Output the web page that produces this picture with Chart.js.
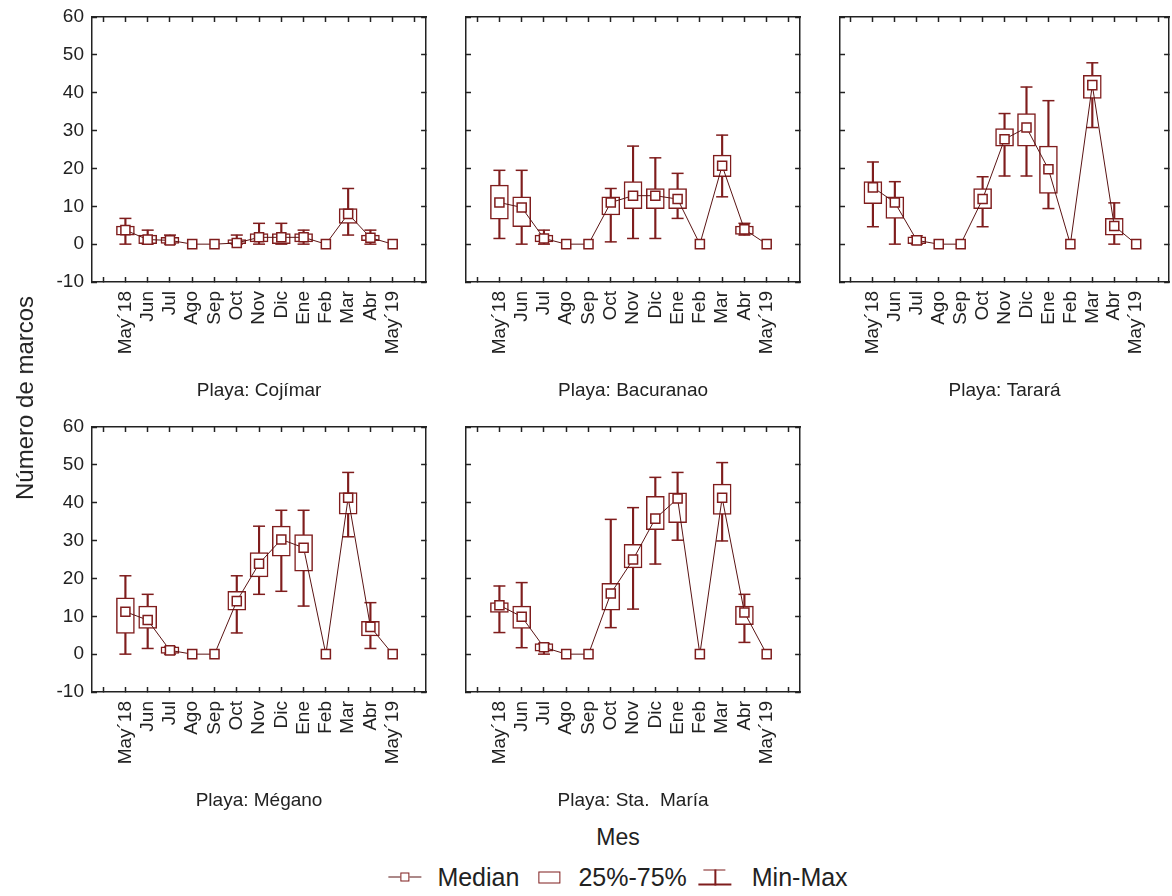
<!DOCTYPE html>
<html lang="es">
<head>
<meta charset="utf-8">
<title>Número de marcos por mes y playa</title>
<script src="https://cdn.jsdelivr.net/npm/chart.js@4.4.1/dist/chart.umd.min.js"></script>
<style>
  html, body { margin: 0; padding: 0; background: #fff; overflow: hidden; }
  body { width: 1172px; height: 896px; position: relative; font-family: 'Liberation Sans', Arial, sans-serif; color: #222; }
  canvas { position: absolute; }
  .lbl { position: absolute; white-space: nowrap; line-height: 1; }
  #ytitle { left: 25px; top: 398px; font-size: 24px; transform: translate(-50%, -50%) rotate(-90deg); }
  #xtitle { left: 618px; top: 837px; font-size: 23px; transform: translate(-50%, -50%); }
  #legend { position: absolute; left: 618px; top: 877px; transform: translate(-50%, -50%); display: flex; align-items: center; font-size: 25px; white-space: nowrap; }
  .ic-med { position: relative; width: 33px; height: 12px; }
  .ic-med::before { content: ''; position: absolute; left: 0; right: 0; top: 5.5px; height: 1px; background: #5a1414; }
  .ic-med i { position: absolute; left: 11.5px; top: 1.5px; width: 7px; height: 7px; border: 1.5px solid #7f1d1d; background: #fff; }
  .ic-box { width: 20px; height: 10px; border: 1.5px solid #7f1d1d; margin-left: 19px; }
  .ic-wsk { position: relative; width: 33px; height: 16px; margin-left: 12px; }
  .ic-wsk::before { content: ''; position: absolute; left: 5px; width: 22px; top: 0; height: 1.5px; background: #7f1d1d; }
  .ic-wsk::after { content: ''; position: absolute; left: 0; width: 33px; bottom: 0; height: 1.5px; background: #7f1d1d; }
  .ic-wsk i { position: absolute; left: 15.75px; top: 0; width: 1.5px; height: 16px; background: #7f1d1d; }
</style>
</head>
<body>
<canvas id="c0"></canvas>
<canvas id="c1"></canvas>
<canvas id="c2"></canvas>
<canvas id="c3"></canvas>
<canvas id="c4"></canvas>
<div class="lbl" id="ytitle">Número de marcos</div>
<div class="lbl" id="xtitle">Mes</div>
<div id="legend">
  <span class="ic-med"><i></i></span><span style="margin-left:16px">Median</span>
  <span class="ic-box"></span><span style="margin-left:18px">25%-75%</span>
  <span class="ic-wsk"><i></i></span><span style="margin-left:20px">Min-Max</span>
</div>
<script>
// meses (eje x)
const months = ['May´18', 'Jun', 'Jul', 'Ago', 'Sep', 'Oct', 'Nov', 'Dic', 'Ene', 'Feb', 'Mar', 'Abr', 'May´19'];

// Playa: Cojímar
const cojMin = [0, 0, 0, 0, 0, 0, 0, 0, 0, 0, 2.4, 0, 0];
const cojQ1  = [2.4, 0, 0.2, 0, 0, 0, 0.6, 0, 0.6, 0, 5.5, 0.9, 0];
const cojMed = [3.7, 1.2, 1, 0, 0, 0.3, 1.8, 1.8, 1.8, 0, 8, 1.7, 0];
const cojQ3  = [4.8, 2.4, 1.8, 0, 0, 1.2, 2.8, 2.8, 2.8, 0, 9.4, 2.4, 0];
const cojMax = [6.8, 3.7, 2.4, 0, 0, 2.4, 5.5, 5.5, 3.7, 0, 14.7, 3.7, 0];

// Playa: Bacuranao
const bacMin = [1.5, 0, 0, 0, 0, 0.6, 1.5, 1.5, 6.8, 0, 12.5, 2.4, 0];
const bacQ1  = [6.6, 4.6, 0.6, 0, 0, 7.7, 9.4, 9.4, 9.4, 0, 17.8, 2.6, 0];
const bacMed = [11, 9.7, 1.5, 0, 0, 11, 12.8, 12.8, 11.9, 0, 20.7, 3.9, 0];
const bacQ3  = [15.6, 12.5, 2.4, 0, 0, 12.5, 16.5, 14.7, 14.7, 0, 23.5, 4.8, 0];
const bacMax = [19.5, 19.5, 3.7, 0, 0, 14.7, 25.9, 22.8, 18.7, 0, 28.8, 5.5, 0];

// Playa: Tarará
const tarMin = [4.6, 0, 0, 0, 0, 4.6, 18, 18, 9.4, 0, 30.8, 0, 0];
const tarQ1  = [10.7, 6.8, 0, 0, 0, 9.4, 25.9, 25.9, 13.4, 0, 38.5, 2.4, 0];
const tarMed = [15, 11, 1, 0, 0, 11.9, 27.7, 30.8, 19.8, 0, 42, 4.8, 0];
const tarQ3  = [16.5, 12.5, 1.9, 0, 0, 14.7, 30.5, 34.5, 25.9, 0, 44.6, 6.8, 0];
const tarMax = [21.7, 16.5, 2.2, 0, 0, 17.8, 34.5, 41.5, 37.9, 0, 47.9, 10.9, 0];

// Playa: Mégano
const megMin = [0, 1.5, 0, 0, 0, 5.6, 15.8, 16.6, 12.7, 0, 31, 1.5, 0];
const megQ1  = [5.5, 6.8, 0.2, 0, 0, 11.6, 20.4, 25.9, 21.9, 0, 37, 4.8, 0];
const megMed = [11.2, 9, 1, 0, 0, 14, 23.9, 30.3, 28.1, 0, 41.3, 7.2, 0];
const megQ3  = [14.9, 12.7, 1.9, 0, 0, 16.6, 26.8, 33.8, 31.6, 0, 42.7, 8.7, 0];
const megMax = [20.7, 15.8, 1.9, 0, 0, 20.7, 33.8, 38, 38, 0, 48, 13.6, 0];

// Playa: Sta. María
const smaMin = [5.7, 1.7, 0, 0, 0, 7, 11.9, 23.8, 30.1, 0, 29.9, 3.1, 0];
const smaQ1  = [11, 6.8, 0.8, 0, 0, 11.6, 22.8, 32.9, 34.7, 0, 36.9, 7.8, 0];
const smaMed = [12.9, 9.9, 1.8, 0, 0, 16, 25, 35.8, 41.1, 0, 41.3, 11, 0];
const smaQ3  = [13.6, 12.7, 2.8, 0, 0, 18.7, 29, 41.7, 42.6, 0, 44.9, 12.7, 0];
const smaMax = [18, 18.9, 2.8, 0, 0, 35.6, 38.7, 46.7, 48, 0, 50.6, 15.8, 0];

const RED = '#7f1d1d';
const LINE = '#5a1414';
const INK = '#222';
const FONT = "'Liberation Sans', Arial, sans-serif";

// marco de cada panel (área del gráfico) en la página
const panels = [
  { title: 'Playa: Cojímar',     min: cojMin, q1: cojQ1, med: cojMed, q3: cojQ3, max: cojMax, left: 92,  top: 17,  right: 428,  bottom: 282, yLabels: true },
  { title: 'Playa: Bacuranao',   min: bacMin, q1: bacQ1, med: bacMed, q3: bacQ3, max: bacMax, left: 466, top: 17,  right: 802,  bottom: 282, yLabels: false },
  { title: 'Playa: Tarará',      min: tarMin, q1: tarQ1, med: tarMed, q3: tarQ3, max: tarMax, left: 840, top: 17,  right: 1171, bottom: 282, yLabels: false },
  { title: 'Playa: Mégano',      min: megMin, q1: megQ1, med: megMed, q3: megQ3, max: megMax, left: 92,  top: 427, right: 428,  bottom: 692, yLabels: true },
  { title: 'Playa: Sta.  María', min: smaMin, q1: smaQ1, med: smaMed, q3: smaQ3, max: smaMax, left: 466, top: 427, right: 802,  bottom: 692, yLabels: false }
];

const AX_L = 70, AX_R = 6, AX_T = 10, AX_B = 125;

const pts = arr => arr.map((v, i) => ({ x: i, y: v }));
const ranges = (a, b) => a.map((v, i) => ({ x: i, y: [v, b[i]] }));

// ticks del eje x en cada mes más uno a cada lado
const xTicks = s => {
  s.ticks = [];
  for (let v = -1; v <= months.length; v++) s.ticks.push({ value: v });
};

// tamaño fijo de los ejes, sin relleno extra para las etiquetas
const fitX = h => s => { s.height = h; s.paddingLeft = 0; s.paddingRight = 0; };
const fitY = w => s => { s.width = w; s.paddingTop = 0; s.paddingBottom = 0; };

const frameGrid = () => ({
  display: true, drawOnChartArea: false, drawTicks: true, offset: false,
  tickLength: -5, tickColor: INK, tickWidth: 1.5
});
const frameBorder = () => ({ display: true, color: INK, width: 1.5 });

function drawPanel(p, i) {
  const canvas = document.getElementById('c' + i);
  const w = (p.right - p.left) + AX_L + AX_R;
  const h = (p.bottom - p.top) + AX_T + AX_B;
  canvas.width = w; canvas.height = h;
  canvas.style.left = (p.left - AX_L) + 'px';
  canvas.style.top = (p.top - AX_T) + 'px';
  canvas.style.width = w + 'px';
  canvas.style.height = h + 'px';

  const capRadius = c => (p.min[c.dataIndex] === p.max[c.dataIndex] ? 0 : 6);

  new Chart(canvas, {
    type: 'bar',
    data: {
      datasets: [
        {
          type: 'line', label: 'Median', data: pts(p.med),
          borderColor: LINE, borderWidth: 1,
          pointStyle: 'rect', pointRadius: 6.4,
          pointBackgroundColor: '#fff', pointBorderColor: RED, pointBorderWidth: 1.5,
          order: 0
        },
        {
          type: 'bar', label: '25%-75%', data: ranges(p.q1, p.q3),
          grouped: false, barThickness: 18,
          backgroundColor: '#fff', borderColor: RED, borderWidth: 1.5, borderSkipped: false,
          order: 1
        },
        {
          type: 'bar', label: 'Min-Max', data: ranges(p.min, p.max),
          grouped: false, barThickness: 1.5,
          backgroundColor: RED, borderWidth: 0,
          order: 2
        },
        {
          type: 'line', label: 'Max', data: pts(p.max), showLine: false,
          pointStyle: 'line', pointRadius: capRadius,
          pointBorderColor: RED, pointBorderWidth: 1.5, order: 2
        },
        {
          type: 'line', label: 'Min', data: pts(p.min), showLine: false,
          pointStyle: 'line', pointRadius: capRadius,
          pointBorderColor: RED, pointBorderWidth: 1.5, order: 2
        }
      ]
    },
    options: {
      responsive: false,
      animation: false,
      devicePixelRatio: 1,
      events: [],
      layout: { padding: 0 },
      plugins: { legend: { display: false }, tooltip: { enabled: false } },
      scales: {
        x: {
          type: 'linear', position: 'bottom', min: -1.5, max: months.length + 0.5, offset: false,
          afterBuildTicks: xTicks,
          afterFit: fitX(AX_B),
          grid: frameGrid(), border: frameBorder(),
          ticks: {
            autoSkip: false, minRotation: 90, maxRotation: 90, padding: 14,
            color: INK, font: { family: FONT, size: 19 },
            callback: v => months[v] ?? ''
          },
          title: {
            display: true, text: p.title, color: INK,
            font: { family: FONT, size: 19 }, padding: { top: 0, bottom: 5 }
          }
        },
        x2: {
          type: 'linear', position: 'top', min: -1.5, max: months.length + 0.5, offset: false,
          afterBuildTicks: xTicks,
          afterFit: fitX(AX_T),
          grid: frameGrid(), border: frameBorder(),
          ticks: { display: false }
        },
        y: {
          type: 'linear', position: 'left', min: -10, max: 60,
          afterFit: fitY(AX_L),
          grid: frameGrid(), border: frameBorder(),
          ticks: {
            display: p.yLabels, stepSize: 10, padding: 13,
            color: INK, font: { family: FONT, size: 19 }
          }
        },
        y2: {
          type: 'linear', position: 'right', min: -10, max: 60,
          afterFit: fitY(AX_R),
          grid: frameGrid(), border: frameBorder(),
          ticks: { display: false, stepSize: 10 }
        }
      }
    }
  });
}

panels.forEach(drawPanel);
</script>
</body>
</html>
